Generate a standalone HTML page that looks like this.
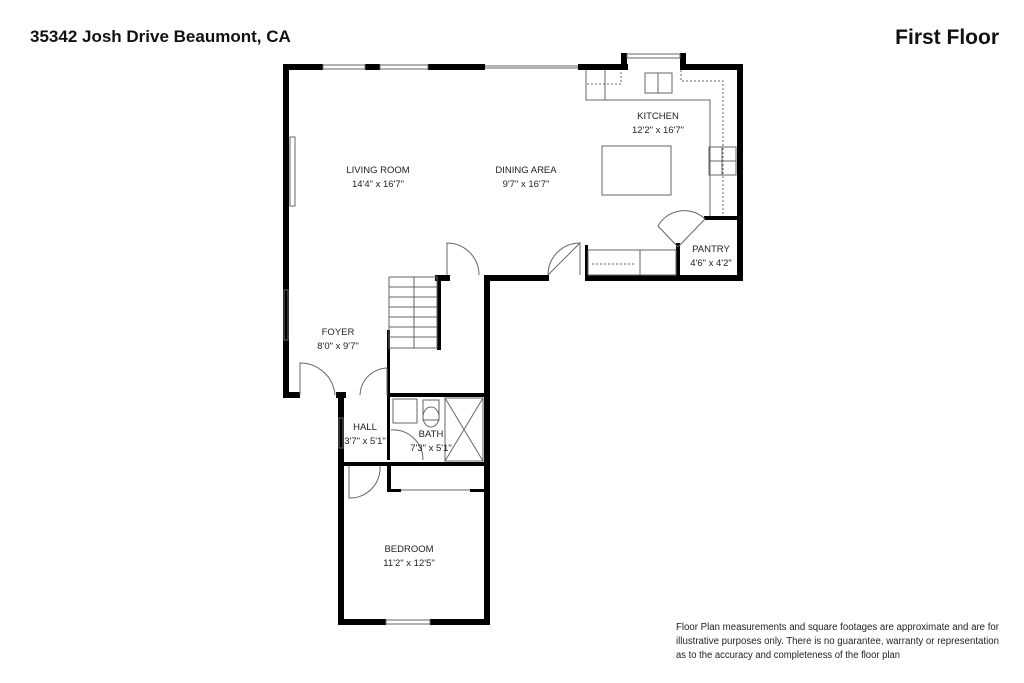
<!DOCTYPE html>
<html><head><meta charset="utf-8"><style>
html,body{margin:0;padding:0;background:#fff;}
svg{display:block;}
text{font-family:"Liberation Sans",sans-serif;}
</style></head><body>
<svg width="1024" height="683" viewBox="0 0 1024 683" xmlns="http://www.w3.org/2000/svg">
<rect width="1024" height="683" fill="#fff"/>
<text x="30" y="42" font-size="17" font-weight="bold" fill="#111">35342 Josh Drive Beaumont, CA</text>
<text x="999" y="44" font-size="21" font-weight="bold" fill="#111" text-anchor="end">First Floor</text>

<g fill="#000">
<rect x="283" y="64" width="6" height="334"/>
<rect x="283" y="64" width="40" height="6"/>
<rect x="365" y="64" width="15" height="6"/>
<rect x="428" y="64" width="57" height="6"/>
<rect x="578" y="64" width="50" height="6"/>
<rect x="621" y="53" width="6" height="17"/>
<rect x="680" y="53" width="6" height="17"/>
<rect x="680" y="64" width="63" height="6"/>
<rect x="737" y="64" width="6" height="217"/>
<rect x="585" y="275" width="158" height="6"/>
<rect x="485" y="275" width="64" height="6"/>
<rect x="435" y="275" width="15" height="6"/>
<rect x="484" y="275" width="6" height="350"/>
<rect x="283" y="392" width="17" height="6"/>
<rect x="336" y="392" width="10" height="6"/>
<rect x="338" y="392" width="6" height="233"/>
<rect x="338" y="619" width="48" height="6"/>
<rect x="430" y="619" width="60" height="6"/>
<rect x="387" y="330" width="3" height="130"/>
<rect x="387" y="393" width="100" height="4"/>
<rect x="338" y="462" width="150" height="4"/>
<rect x="387" y="462" width="4" height="30"/>
<rect x="387" y="489" width="14" height="3"/>
<rect x="470" y="489" width="17" height="3"/>
<rect x="676" y="243" width="4" height="36"/>
<rect x="704" y="216" width="39" height="4"/>
<rect x="585" y="245" width="3" height="33"/>
<rect x="437" y="280" width="4" height="70"/>
</g>

<g fill="none" stroke="#666" stroke-width="1">
<rect x="323" y="65" width="42" height="4"/>
<rect x="380" y="65" width="48" height="4"/>
<line x1="485" y1="66" x2="578" y2="66"/><line x1="485" y1="68" x2="578" y2="68"/>
<rect x="627" y="54" width="53" height="4"/>
<rect x="290" y="137" width="5" height="69"/>
<rect x="284" y="290" width="4" height="50"/>
<rect x="339" y="418" width="4" height="30"/>
<rect x="386" y="620" width="44" height="4"/>
<line x1="401" y1="490" x2="470" y2="490"/>
<polyline points="586,70 586,100 710,100 710,216"/>
<line x1="605" y1="70" x2="605" y2="100"/>
<rect x="645" y="73" width="27" height="20"/>
<line x1="658" y1="73" x2="658" y2="93"/>
<polyline points="681,70 681,81 723,81 723,216" stroke-dasharray="2,2"/>
<polyline points="587,84 621,84 621,70" stroke-dasharray="2,2"/>
<rect x="709" y="147" width="27" height="28"/>
<line x1="722" y1="147" x2="722" y2="175"/><line x1="709" y1="161" x2="736" y2="161"/>
<rect x="602" y="146" width="69" height="49"/>
<line x1="678" y1="247" x2="705" y2="219"/>
<path d="M678,247 L658,226 A30,30 0 0 1 705,219"/>
<rect x="588" y="250" width="88" height="25"/>
<line x1="640" y1="250" x2="640" y2="275"/>
<line x1="592" y1="264" x2="636" y2="264" stroke-dasharray="2,2"/>
<path d="M447,275 L447,243 A32,32 0 0 1 479,275"/>
<path d="M548,275 L580,243 L580,275 M548,275 A32,32 0 0 1 580,243" />
<path d="M300,395 L300,363 A35,35 0 0 1 335,395"/>
<path d="M387,368 A28,28 0 0 0 360,395 M387,368 L387,395"/>
<path d="M349,466 L349,498 A30,30 0 0 0 380,466"/>
<path d="M391,430 A30,30 0 0 1 423,460"/>
<rect x="389" y="277" width="48" height="71"/>
<line x1="414" y1="277" x2="414" y2="348"/>
<line x1="389" y1="287" x2="437" y2="287"/><line x1="389" y1="297" x2="437" y2="297"/>
<line x1="389" y1="307" x2="437" y2="307"/><line x1="389" y1="317" x2="437" y2="317"/>
<line x1="389" y1="327" x2="437" y2="327"/><line x1="389" y1="337" x2="437" y2="337"/>
<rect x="393" y="399" width="24" height="24"/>
<rect x="423" y="400" width="16" height="20"/>
<ellipse cx="431" cy="417" rx="8" ry="10"/>
<rect x="445" y="398" width="38" height="63"/>
<line x1="445" y1="398" x2="483" y2="461"/><line x1="483" y1="398" x2="445" y2="461"/>
</g>

<g font-size="9.5" fill="#222" text-anchor="middle">
<text x="378" y="173">LIVING ROOM</text><text x="378" y="187">14'4" x 16'7"</text>
<text x="526" y="173">DINING AREA</text><text x="526" y="187">9'7" x 16'7"</text>
<text x="658" y="119">KITCHEN</text><text x="658" y="133">12'2" x 16'7"</text>
<text x="711" y="252">PANTRY</text><text x="711" y="266">4'6" x 4'2"</text>
<text x="338" y="335">FOYER</text><text x="338" y="349">8'0" x 9'7"</text>
<text x="365" y="430">HALL</text><text x="365" y="444">3'7" x 5'1"</text>
<text x="431" y="437">BATH</text><text x="431" y="451">7'3" x 5'1"</text>
<text x="409" y="552">BEDROOM</text><text x="409" y="566">11'2" x 12'5"</text>
</g>
<g font-size="10" fill="#222">
<text x="676" y="630" textLength="323" lengthAdjust="spacingAndGlyphs">Floor Plan measurements and square footages are approximate and are for</text>
<text x="676" y="644" textLength="323" lengthAdjust="spacingAndGlyphs">illustrative purposes only. There is no guarantee, warranty or representation</text>
<text x="676" y="658" textLength="224" lengthAdjust="spacingAndGlyphs">as to the accuracy and completeness of the floor plan</text>
</g>
</svg>
</body></html>
